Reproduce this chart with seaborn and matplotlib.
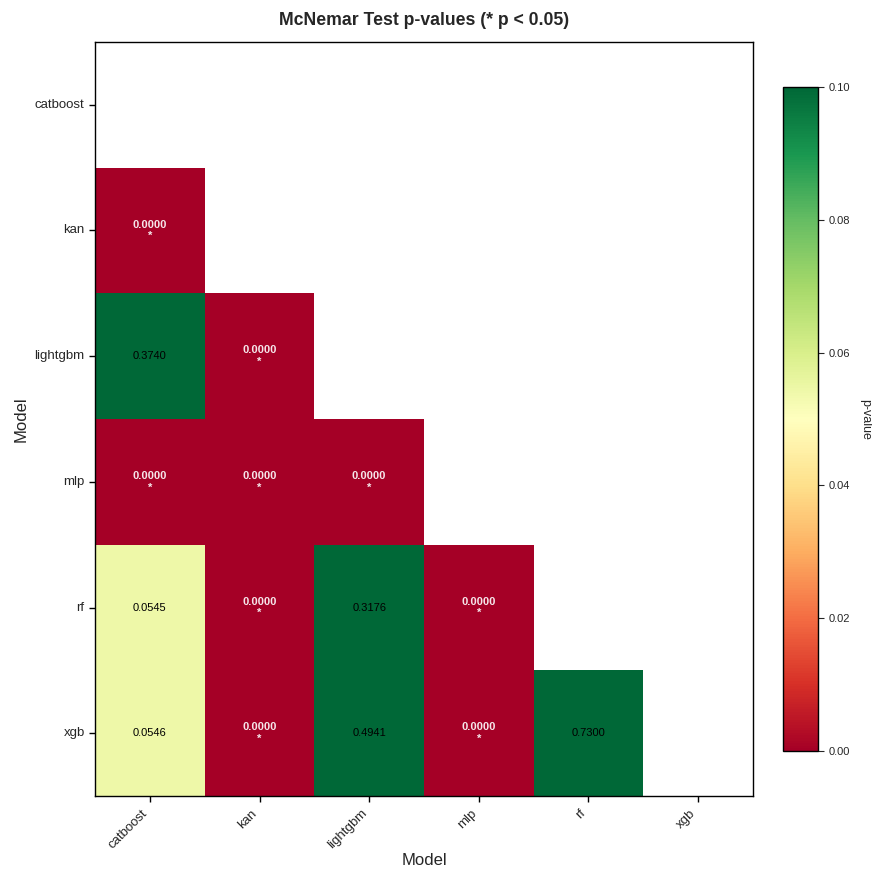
import numpy as np
import pandas as pd
import matplotlib
matplotlib.use("Agg")
import matplotlib.pyplot as plt
import seaborn as sns

models = ["catboost", "kan", "lightgbm", "mlp", "rf", "xgb"]
# lower-triangle p-values (row model vs column model)
row_kan = [0.0000]
row_lightgbm = [0.3740, 0.0000]
row_mlp = [0.0000, 0.0000, 0.0000]
row_rf = [0.0545, 0.0000, 0.3176, 0.0000]
row_xgb = [0.0546, 0.0000, 0.4941, 0.0000, 0.7300]

n = len(models)
mat = np.ones((n, n))
for i, row in enumerate([[], row_kan, row_lightgbm, row_mlp, row_rf, row_xgb]):
    for j, v in enumerate(row):
        mat[i, j] = v
df = pd.DataFrame(mat, index=models, columns=models)
mask = np.triu(np.ones((n, n), dtype=bool))

labels = np.empty((n, n), dtype=object)
for i in range(n):
    for j in range(n):
        v = mat[i, j]
        labels[i, j] = f"{v:.4f}\n*" if v < 0.05 else f"{v:.4f}"

sns.set_style("white")
plt.rcParams['font.family'] = ['Liberation Sans', 'DejaVu Sans']

fig = plt.figure(figsize=(8.72, 8.71), dpi=100)
ax = fig.add_axes([0.109, 0.086, 0.7545, 0.866])
cax = fig.add_axes([0.898, 0.1378, 0.040, 0.762])

sns.heatmap(df, mask=mask, cmap="RdYlGn", vmin=0, vmax=0.1,
            annot=labels, fmt="", annot_kws={"fontsize": 8},
            ax=ax, cbar_ax=cax, cbar_kws={"label": "p-value"})

for t in ax.texts:
    txt = t.get_text()
    if "*" in txt:
        t.set_color("white")
        t.set_alpha(0.9)
        t.set_fontweight("bold")
    else:
        t.set_color("black")
        t.set_fontweight("normal")

for s in ax.spines.values():
    s.set_visible(True)
    s.set_color("black")
    s.set_linewidth(1.0)

ax.tick_params(axis="both", which="both", length=4, width=1, color="black",
               bottom=True, left=True, labelsize=9.5)
ax.tick_params(axis="x", pad=4)
ax.set_xticklabels(models, rotation=45, ha="right")
ax.set_yticklabels(models, rotation=0)
ax.set_xlabel("Model", fontsize=12, labelpad=1)
ax.set_ylabel("Model", fontsize=12)
ax.set_title("McNemar Test p-values (* p < 0.05)", fontsize=12.7,
             fontweight="bold", pad=12)

cbar = ax.collections[0].colorbar
cbar.set_label("p-value", rotation=270, labelpad=15, fontsize=9)
cbar.ax.tick_params(labelsize=8, length=4)
cbar.outline.set_visible(True)
cbar.outline.set_edgecolor("black")
cbar.outline.set_linewidth(1.0)
cbar.set_ticks([0.0, 0.02, 0.04, 0.06, 0.08, 0.10])
cbar.set_ticklabels(["0.00", "0.02", "0.04", "0.06", "0.08", "0.10"])

fig.savefig("out.png", dpi=100)
